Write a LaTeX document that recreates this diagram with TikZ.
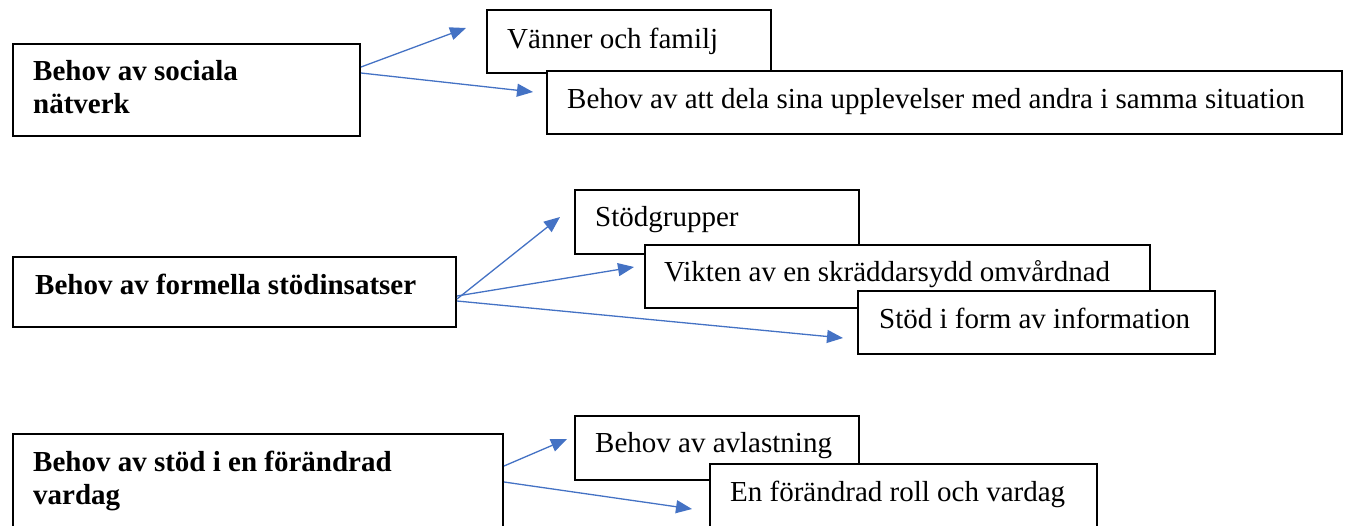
\documentclass[tikz,border=0pt]{standalone}
\usepackage{fontspec}
\setmainfont{Liberation Serif}
\usetikzlibrary{arrows.meta,calc}
\definecolor{arrblue}{RGB}{68,114,196}
\tikzset{
  box/.style={draw=black, line width=2pt, fill=white, minimum width=#1, inner sep=0pt, anchor=north west},
  lbl/.style={anchor=base west, inner sep=0pt, font=\fontsize{29}{33.4}\selectfont},
  blbl/.style={lbl, font=\fontsize{29}{33.4}\selectfont\bfseries},
  conn/.style={draw=arrblue, line width=1.3pt, -{Triangle[length=16pt,width=13pt]}}
}
\begin{document}
\begin{tikzpicture}[x=1pt,y=-1pt]
\useasboundingbox (0,0) rectangle (1349,525);
% group 1
\node[box=347pt, minimum height=92pt] (s1) at (12,43) {};
\node[blbl] (s1t) at (33,80) {Behov av sociala};
\node[blbl] (s1t2) at (33,113) {nätverk};
\node[box=284pt, minimum height=63pt] (a1) at (486,9) {};
\node[lbl] (a1t) at (507,48) {Vänner och familj};
\node[box=795pt, minimum height=63pt] (a2) at (546,70) {};
\node[lbl] (a2t) at (567,108) {Behov av att dela sina upplevelser med andra i samma situation};
\coordinate (t11) at (466,28);
\coordinate (t12) at (533,92);
\draw[conn] ($(s1.north east)+(0,24)$) -- (t11);
\draw[conn] ($(s1.north east)+(0,30)$) -- (t12);
% group 2
\node[box=443pt, minimum height=70pt] (s2) at (12,256) {};
\node[blbl] (s2t) at (35,294) {Behov av formella stödinsatser};
\node[box=284pt, minimum height=64pt] (b1) at (574,189) {};
\node[lbl] (b1t) at (595,226) {Stödgrupper};
\node[box=505pt, minimum height=63pt] (b2) at (644,244) {};
\node[lbl] (b2t) at (664,281) {Vikten av en skräddarsydd omvårdnad};
\node[box=357pt, minimum height=63pt] (b3) at (857,290) {};
\node[lbl] (b3t) at (879,328) {Stöd i form av information};
\coordinate (t21) at (560,217);
\coordinate (t22) at (634,267);
\coordinate (t23) at (843,338);
\draw[conn] ($(s2.north east)+(0,43)$) -- (t21);
\draw[conn] ($(s2.north east)+(0,40)$) -- (t22);
\draw[conn] ($(s2.north east)+(0,45)$) -- (t23);
% group 3
\node[box=490pt, minimum height=100pt] (s3) at (12,433) {};
\node[blbl] (s3t) at (33,471) {Behov av stöd i en förändrad};
\node[blbl] (s3t2) at (33,504) {vardag};
\node[box=284pt, minimum height=64pt] (c1) at (574,415) {};
\node[lbl] (c1t) at (595,452) {Behov av avlastning};
\node[box=387pt, minimum height=70pt] (c2) at (709,463) {};
\node[lbl] (c2t) at (730,501) {En förändrad roll och vardag};
\coordinate (t31) at (567,439);
\coordinate (t32) at (692,509);
\draw[conn] ($(s3.north east)+(0,33)$) -- (t31);
\draw[conn] ($(s3.north east)+(0,49)$) -- (t32);
\end{tikzpicture}
\end{document}
